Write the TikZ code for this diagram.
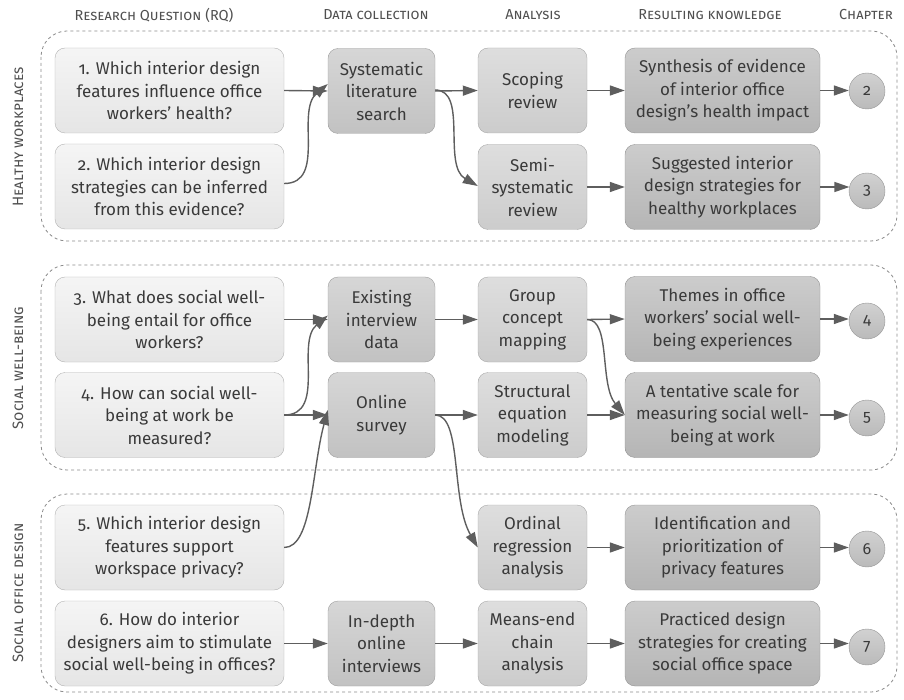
\documentclass[tikz,border=0pt]{standalone}
\usepackage{fontspec}
\setmainfont{Fira Sans}[Numbers=OldStyle]
\usetikzlibrary{arrows.meta}

\definecolor{txt}{HTML}{3A3A3A}
\definecolor{hdr}{HTML}{505050}
\definecolor{linec}{HTML}{5E5E5E}
\definecolor{grp}{HTML}{8A8A8A}

\begin{document}
\begin{tikzpicture}[x=1pt,y=-1pt,
  base/.style={rounded corners=10pt, align=center, inner sep=0pt, text=txt,
    font=\fontsize{17}{22.5}\selectfont, minimum height=85pt},
  rq/.style={base, draw=black!30, top color=black!4, bottom color=black!10, minimum width=229pt},
  dc/.style={base, draw=black!38, top color=black!16, bottom color=black!24, minimum width=107pt},
  an/.style={base, draw=black!34, top color=black!13, bottom color=black!20, minimum width=109pt},
  rk/.style={base, draw=black!42, top color=black!20, bottom color=black!29, minimum width=195pt},
  chap/.style={circle, draw=black!42, top color=black!18, bottom color=black!27, minimum size=36pt,
    inner sep=0pt, text=txt, font=\fontsize{16}{20}\selectfont},
  conn/.style={draw=linec, line width=1.4pt, -{Triangle[length=15pt,width=10pt]}},
  group/.style={draw=grp, dashed, line width=0.8pt, rounded corners=26pt},
  colhead/.style={text=hdr, font=\fontsize{14.5}{16}\selectfont\scshape},
  sidehead/.style={text=hdr, font=\fontsize{15}{16}\selectfont\scshape, rotate=90}
]
\useasboundingbox (0,0) rectangle (904,700);

% thematic groups
\draw[group] (41,31) rectangle (897,241);
\draw[group] (41,265) rectangle (897,470);
\draw[group] (41,494) rectangle (897,692);

% column headings
\node[colhead] (hq) at (154,15) {Research Question (RQ)};
\node[colhead] (hd) at (376,15) {Data collection};
\node[colhead] (ha) at (533,15) {Analysis};
\node[colhead] (hk) at (710,15) {Resulting knowledge};
\node[colhead] (hc) at (866,15) {Chapter};

% group headings
\node[sidehead] (s1) at (18,137) {Healthy workplaces};
\node[sidehead] (s2) at (18,368) {Social well-being};
\node[sidehead] (s3) at (18,593) {Social office design};

% research questions
\node[rq] (q1) at (169.5,90.5) {1. Which interior design\\features influence office\\workers’ health?};
\node[rq] (q2) at (169.5,186.5) {2. Which interior design\\strategies can be inferred\\from this evidence?};
\node[rq] (q3) at (169.5,319.5) {3. What does social well-\\being entail for office\\workers?};
\node[rq] (q4) at (169.5,415) {4. How can social well-\\being at work be\\measured?};
\node[rq] (q5) at (169.5,547.5) {5. Which interior design\\features support\\workspace privacy?};
\node[rq] (q6) at (169.5,643.5) {6. How do interior\\designers aim to stimulate\\social well-being in offices?};

% data collection
\node[dc] (d1) at (381.5,91) {Systematic\\literature\\search};
\node[dc] (d3) at (381.5,319.5) {Existing\\interview\\data};
\node[dc] (d4) at (381.5,415) {Online\\survey};
\node[dc] (d6) at (381.5,643.5) {In-depth\\online\\interviews};

% analysis
\node[an] (a1) at (532.5,90.5) {Scoping\\review};
\node[an] (a2) at (532.5,187) {Semi-\\systematic\\review};
\node[an] (a3) at (532.5,319.5) {Group\\concept\\mapping};
\node[an] (a4) at (532.5,415) {Structural\\equation\\modeling};
\node[an] (a5) at (532.5,547.5) {Ordinal\\regression\\analysis};
\node[an] (a6) at (532.5,643.5) {Means-end\\chain\\analysis};

% resulting knowledge
\node[rk] (k1) at (722.5,90.5) {Synthesis of evidence\\of interior office\\design’s health impact};
\node[rk] (k2) at (722.5,187) {Suggested interior\\design strategies for\\healthy workplaces};
\node[rk] (k3) at (722.5,319) {Themes in office\\workers’ social well-\\being experiences};
\node[rk] (k4) at (722.5,415) {A tentative scale for\\measuring social well-\\being at work};
\node[rk] (k5) at (722.5,547.5) {Identification and\\prioritization of\\privacy features};
\node[rk] (k6) at (722.5,643.5) {Practiced design\\strategies for creating\\social office space};

% chapters
\node[chap] (c2) at (867,91) {2};
\node[chap] (c3) at (867,191) {3};
\node[chap] (c4) at (867,321) {4};
\node[chap] (c5) at (867,418) {5};
\node[chap] (c6) at (867,549) {6};
\node[chap] (c7) at (867,647) {7};

% healthy workplaces
\draw[conn] (q1.east) -- (d1.west);
\draw[conn] ([yshift=3pt]q2.east) to[out=0,in=220] ([yshift=7pt]d1.west);
\draw[conn] (d1.east) -- (a1.west);
\draw[conn] ([yshift=1pt]d1.east) to[out=0,in=150,out looseness=0.8] ([yshift=1pt]a2.west);
\draw[conn] (a1.east) -- (k1.west);
\draw[conn] (a2.east) -- (k2.west);
\draw[conn] (k1.east) -- (c2.west |- k1.east);
\draw[conn] (k2.east) -- ([xshift=0.6pt]c3.west |- k2.east);

% social well-being
\draw[conn] (q3.east) -- (d3.west);
\draw[conn] (q4.east) to[out=0,in=220] ([yshift=4pt]d3.west);
\draw[conn] (q4.east) -- (d4.west);
\draw[conn] (d3.east) -- (a3.west);
\draw[conn] (a3.east) -- (k3.west);
\draw[conn] (a3.east) to[out=0,in=130,out looseness=0.6] (k4.west);
\draw[conn] (d4.east) -- (a4.west);
\draw[conn] (a4.east) -- (k4.west);
\draw[conn] (k3.east) -- (c4.west |- k3.east);
\draw[conn] (k4.east) -- (c5.west |- k4.east);

% social office design
\draw[conn] (q5.east) to[out=0,in=255,out looseness=0.5,in looseness=1.1] ([yshift=5pt]d4.west);
\draw[conn] (d4.east) to[out=0,in=120,out looseness=0.5] (a5.west);
\draw[conn] (a5.east) -- (k5.west);
\draw[conn] (k5.east) -- (c6.west |- k5.east);
\draw[conn] (q6.east) -- (d6.west);
\draw[conn] (d6.east) -- (a6.west);
\draw[conn] (a6.east) -- (k6.west);
\draw[conn] (k6.east) -- (c7.west |- k6.east);
\end{tikzpicture}
\end{document}
